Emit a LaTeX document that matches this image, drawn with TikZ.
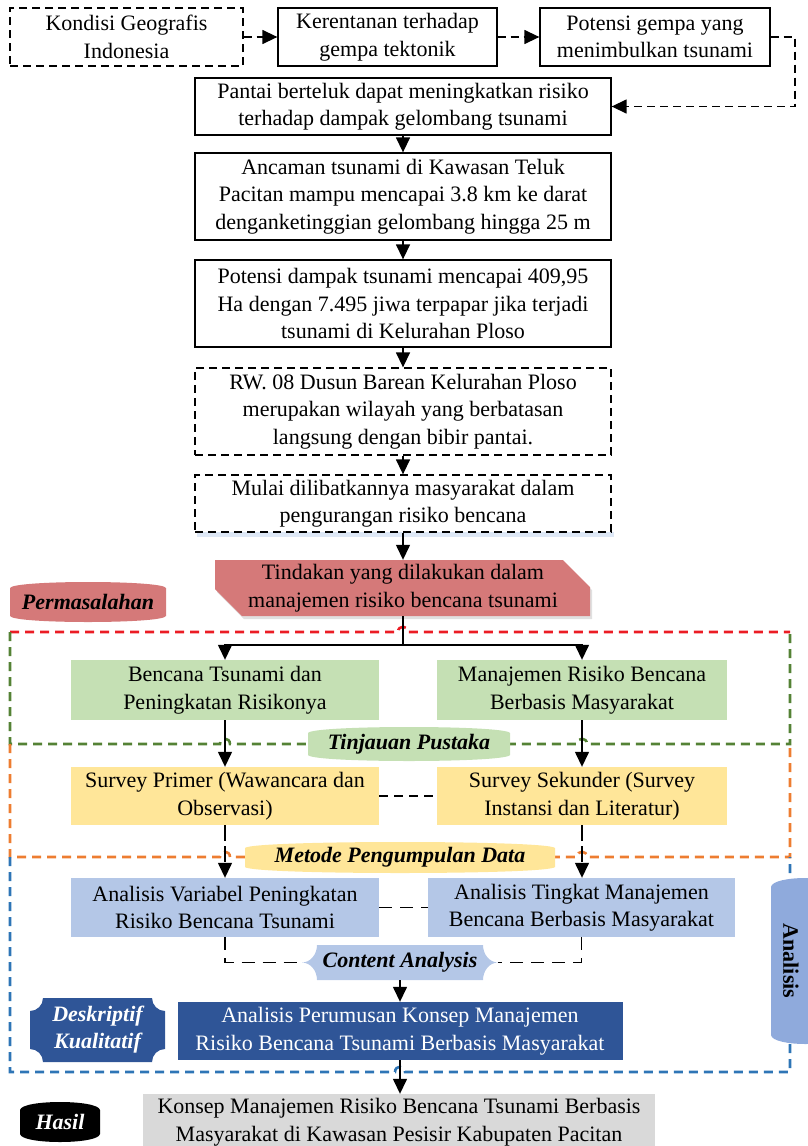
\documentclass[tikz,border=0pt]{standalone}
\usepackage{fontspec}
\setmainfont{Liberation Serif}
\usetikzlibrary{arrows.meta}

\definecolor{redfill}{RGB}{213,121,121}
\definecolor{regred}{RGB}{235,28,36}
\definecolor{reggreen}{RGB}{84,130,53}
\definecolor{regorange}{RGB}{237,125,49}
\definecolor{regblue}{RGB}{46,117,182}
\definecolor{greenfill}{RGB}{197,224,180}
\definecolor{yellowfill}{RGB}{255,230,153}
\definecolor{lbluefill}{RGB}{180,199,231}
\definecolor{dbluefill}{RGB}{47,85,151}
\definecolor{anafill}{RGB}{143,170,220}
\definecolor{greyfill}{RGB}{217,217,217}
\definecolor{paleshadow}{RGB}{222,232,246}

% flattened "can": vertical sides, bulging top and bottom
% #1 fill, #2 x0, #3 y0, #4 x1, #5 y1, #6 bulge
\newcommand\canshape[6]{%
  \fill[#1] ({#2},{#3+#6}) .. controls ({#2+0.02*(#4-#2)},{#3-#6/3}) and ({#4-0.02*(#4-#2)},{#3-#6/3}) .. ({#4},{#3+#6})
    -- ({#4},{#5-#6}) .. controls ({#4-0.02*(#4-#2)},{#5+#6/3}) and ({#2+0.02*(#4-#2)},{#5+#6/3}) .. ({#2},{#5-#6}) -- cycle;}

% plaque with concave corners
% #1 fill, #2 x0, #3 y0, #4 x1, #5 y1, #6 rx, #7 ry
\newcommand\plaqueshape[7]{%
  \fill[#1] ({#2+#6},{#3}) -- ({#4-#6},{#3})
    .. controls ({#4-#6},{#3+0.55*#7}) and ({#4-0.55*#6},{#3+#7}) .. ({#4},{#3+#7})
    -- ({#4},{#5-#7})
    .. controls ({#4-0.55*#6},{#5-#7}) and ({#4-#6},{#5-0.55*#7}) .. ({#4-#6},{#5})
    -- ({#2+#6},{#5})
    .. controls ({#2+#6},{#5-0.55*#7}) and ({#2+0.55*#6},{#5-#7}) .. ({#2},{#5-#7})
    -- ({#2},{#3+#7})
    .. controls ({#2+0.55*#6},{#3+#7}) and ({#2+#6},{#3+0.55*#7}) .. ({#2+#6},{#3}) -- cycle;}

\tikzset{
  txt/.style={font=\fontsize{22}{27.5}\selectfont, align=center, inner sep=0pt},
  box/.style={txt, draw, line width=1.3pt},
  dbox/.style={box, dash pattern=on 8pt off 5pt},
  lab/.style={font=\fontsize{22}{27}\selectfont\bfseries\itshape, align=center, inner sep=0pt},
  arr/.style={line width=1.4pt, -{Triangle[length=15pt,width=14pt]}},
  darr/.style={arr, dash pattern=on 8pt off 5pt},
  dline/.style={line width=1.4pt, dash pattern=on 8pt off 6pt},
  region/.style={line width=2.6pt, dash pattern=on 9pt off 6pt},
}

\begin{document}
\begin{tikzpicture}[x=1pt, y=-1pt]
\useasboundingbox (0,0) rectangle (808,1146);

% ---------------- grouping frames ----------------
\draw[region, regred] (10,632) -- (398,632) .. controls (398,625) and (408,625) .. (408,632) -- (790,632);
\draw[region, reggreen] (10,632) -- (10,744) -- (220,744) .. controls (220,737) and (230,737) .. (230,744)
  -- (577,744) .. controls (577,737) and (587,737) .. (587,744) -- (790,744) -- (790,632);
\draw[region, regorange] (10,744) -- (10,857) -- (220,857) .. controls (220,850) and (230,850) .. (230,857)
  -- (577,857) .. controls (577,850) and (587,850) .. (587,857) -- (790,857) -- (790,744);
\draw[region, regblue] (10,857) -- (10,1072) -- (395,1072) .. controls (395,1065) and (405,1065) .. (405,1072)
  -- (790,1072) -- (790,857);

% ---------------- background chain ----------------
\node[dbox, minimum width=233pt, minimum height=58pt] (k1) at (126.5,37) {Kondisi Geografis\\Indonesia};
\node[box, minimum width=219pt, minimum height=58pt] (k2) at (387.5,37) {Kerentanan terhadap\\gempa tektonik};
\node[box, minimum width=230pt, minimum height=58pt] (k3) at (655,37) {Potensi gempa yang\\menimbulkan tsunami};
\node[box, minimum width=416pt, minimum height=57pt] (pantai) at (403,106.5) {Pantai berteluk dapat meningkatkan risiko\\terhadap dampak gelombang tsunami};
\node[box, minimum width=416pt, minimum height=87pt] (ancaman) at (403,196.5) {Ancaman tsunami di Kawasan Teluk\\Pacitan mampu mencapai 3.8 km ke darat\\denganketinggian gelombang hingga 25 m};
\node[box, minimum width=416pt, minimum height=87pt] (dampak) at (403,303.5) {Potensi dampak tsunami mencapai 409,95\\Ha dengan 7.495 jiwa terpapar jika terjadi\\tsunami di Kelurahan Ploso};
\node[dbox, minimum width=416pt, minimum height=87pt] (rw) at (403,411.5) {RW. 08 Dusun Barean Kelurahan Ploso\\merupakan wilayah yang berbatasan\\langsung dengan bibir pantai.};
\fill[paleshadow] (197,532) rectangle (614,537);
\node[dbox, fill=white, minimum width=416pt, minimum height=57pt] (mulai) at (403,503.5) {Mulai dilibatkannya masyarakat dalam\\pengurangan risiko bencana};

% snipped-corner problem box with its shadow
\fill[black, opacity=0.12] (217,563) -- (565,563) -- (592,590) -- (592,619) -- (244,619) -- (217,592) -- cycle;
\fill[redfill] (215,560) -- (563,560) -- (590,587) -- (590,616) -- (242,616) -- (215,589) -- cycle;
\node[txt, minimum width=375pt, minimum height=56pt] (tind) at (403,588) {Tindakan yang dilakukan dalam\\manajemen risiko bencana tsunami};

\canshape{redfill}{10}{582}{166}{622}{6}
\node[lab] (perm) at (88,602) {Permasalahan};

\draw[darr] (k1) -- (k2);
\draw[darr] (k2) -- (k3);
\coordinate (rturn) at (795,70);
\draw[darr] (k3.east) -| (rturn) |- (pantai.east);
\draw[arr] (pantai) -- (ancaman);
\draw[arr] (ancaman) -- (dampak);
\draw[arr] (dampak) -- (rw);
\draw[arr] (rw) -- (mulai);
\draw[arr] (mulai) -- (tind);

% ---------------- literature review ----------------
\node[txt, fill=greenfill, minimum width=308pt, minimum height=60pt] (gl) at (225,690) {Bencana Tsunami dan\\Peningkatan Risikonya};
\node[txt, fill=greenfill, minimum width=290pt, minimum height=60pt] (gr) at (582,690) {Manajemen Risiko Bencana\\Berbasis Masyarakat};
\coordinate (fork) at (403,645);
\draw[line width=1.4pt] (tind.south) -- (fork);
\draw[arr] (fork) -| (gl.north);
\draw[arr] (fork) -| (gr.north);

% ---------------- data collection ----------------
\node[txt, fill=yellowfill, minimum width=308pt, minimum height=58pt] (yl) at (225,796) {Survey Primer (Wawancara dan\\Observasi)};
\node[txt, fill=yellowfill, minimum width=290pt, minimum height=58pt] (yr) at (582,796) {Survey Sekunder (Survey\\Instansi dan Literatur)};
\draw[arr] (gl) -- (yl);
\draw[arr] (gr) -- (yr);
\draw[dline, dash pattern=on 9pt off 6pt] (yl) -- (yr);

\canshape{greenfill}{308}{727}{510}{761}{6}
\node[lab] (tinjau) at (409,744) {Tinjauan Pustaka};

% ---------------- analysis ----------------
\node[txt, fill=lbluefill, minimum width=308pt, minimum height=59pt] (bl) at (225,907.5) {Analisis Variabel Peningkatan\\Risiko Bencana Tsunami};
\node[txt, fill=lbluefill, minimum width=307pt, minimum height=59pt] (br) at (581.5,907.5) {Analisis Tingkat Manajemen\\Bencana Berbasis Masyarakat};
\draw[arr, dash pattern=on 16pt off 5pt] (yl) -- (bl);
\draw[arr, dash pattern=on 16pt off 5pt] (yr.south) -- (yr.south |- br.north);
\draw[dline, dash pattern=on 13pt off 8pt] (bl) -- (br);

\canshape{yellowfill}{245}{842}{555}{873}{6}
\node[lab] (metode) at (400,857) {Metode Pengumpulan Data};

\plaqueshape{lbluefill}{302}{945}{498}{980}{15}{17.5}
\node[lab] (ca) at (400,962.5) {Content Analysis};
\coordinate (caL) at (302,962.5);
\coordinate (caR) at (498,962.5);
\coordinate (caB) at (400,980);
\draw[dline, dash pattern=on 13pt off 8pt] (bl.south) |- (caL);
\draw[dline, dash pattern=on 13pt off 8pt] (br.south) |- (caR);

\node[txt, fill=dbluefill, text=white, minimum width=445pt, minimum height=58pt] (db) at (400,1031) {Analisis Perumusan Konsep Manajemen\\Risiko Bencana Tsunami Berbasis Masyarakat};
\draw[arr] (caB) -- (db.north);

\plaqueshape{dbluefill}{30}{998}{165}{1062}{13}{13}
\node[lab, text=white] (desk) at (97.5,1030) {Deskriptif\\Kualitatif};

\canshape{anafill}{771}{878}{840}{1044}{9}
\node[lab, font=\fontsize{22}{27}\selectfont\bfseries, rotate=-90] (ana) at (791,961) {Analisis};

% ---------------- result ----------------
\node[txt, fill=greyfill, minimum width=512pt, minimum height=56pt] (hasilbox) at (399,1122) {Konsep Manajemen Risiko Bencana Tsunami Berbasis\\Masyarakat di Kawasan Pesisir Kabupaten Pacitan};
\draw[arr] (db) -- (db.south |- hasilbox.north);

\canshape{black}{20}{1102}{100}{1142}{8}
\node[lab, text=white] (hasil) at (60,1122) {Hasil};
\end{tikzpicture}
\end{document}
